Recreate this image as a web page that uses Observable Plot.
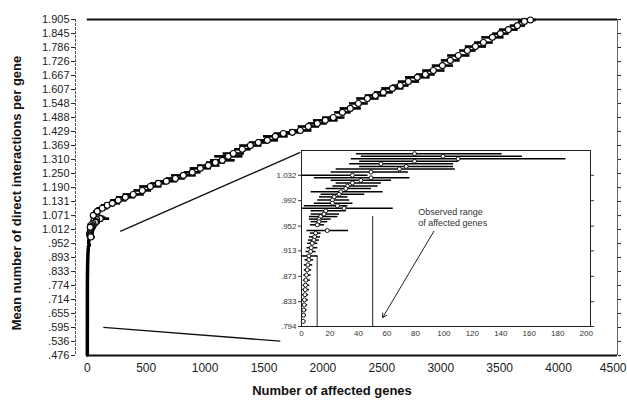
<!DOCTYPE html>
<html><head><meta charset="utf-8">
<script src="https://cdn.jsdelivr.net/npm/d3@7"></script>
<script src="https://cdn.jsdelivr.net/npm/@observablehq/plot@0.6"></script>
<style>
body{margin:0;background:#fff;}
#wrap{position:relative;width:627px;height:402px;overflow:hidden;font-family:"Liberation Sans",Arial,sans-serif;background:#fff;}
#main{position:absolute;left:0;top:0;}
#inset{position:absolute;left:266px;top:148px;}
.ttl{position:absolute;font-weight:bold;font-size:13px;color:#111;white-space:nowrap;}
#ytitle{left:16px;top:193px;transform:translate(-50%,-50%) rotate(-90deg);}
#xtitle{left:332px;top:390px;transform:translate(-50%,-50%);}
</style></head><body>
<div id="wrap"><div id="main"></div><div id="inset"></div>
<div class="ttl" id="ytitle">Mean number of direct interactions per gene</div>
<div class="ttl" id="xtitle">Number of affected genes</div>
</div>
<script>
// ---- main panel ----
const yTicks = [0.476,0.536,0.595,0.655,0.714,0.774,0.833,0.893,0.952,1.012,1.071,1.131,1.190,1.250,1.310,1.369,1.429,1.488,1.548,1.607,1.667,1.726,1.786,1.845,1.905];
const xTicks = [0,500,1000,1500,2000,2500,3000,3500,4000];
const xTickLast = [4500];
const curveX = [25,51,85,127,170,212,263,323,390,467,535,603,671,747,815,891,959,1027,1087,1146,1197,1239,1316,1384,1452,1528,1596,1664,1740,1808,1876,1952,2020,2088,2165,2232,2301,2377,2445,2513,2589,2657,2725,2801,2869,2937,3014,3081,3149,3226,3294,3362,3438,3506,3574,3650,3710,3761];
const curveY = [1.021,1.072,1.089,1.102,1.115,1.123,1.136,1.149,1.161,1.178,1.195,1.208,1.217,1.229,1.242,1.255,1.272,1.284,1.297,1.306,1.323,1.335,1.353,1.369,1.382,1.391,1.408,1.420,1.425,1.433,1.450,1.463,1.476,1.488,1.510,1.527,1.548,1.569,1.582,1.595,1.612,1.624,1.641,1.659,1.671,1.688,1.709,1.731,1.752,1.773,1.790,1.807,1.829,1.845,1.862,1.879,1.897,1.903];
const curveErr = [15,25,35,50,55,65,70,80,90,75,95,70,90,80,105,70,90,95,80,105,120,90,70,95,80,90,105,80,70,95,90,80,105,95,70,90,80,95,90,80,95,70,90,105,80,95,90,80,95,70,90,80,95,70,80,65,55,45];
const lowY = [0.478,0.496,0.514,0.532,0.550,0.568,0.586,0.604,0.622,0.640,0.658,0.676,0.694,0.712,0.730,0.748,0.766,0.784];
const lowX = [0.2,0.2,0.3,0.3,0.3,0.4,0.4,0.5,0.5,0.6,0.6,0.7,0.7,0.8,0.9,0.9,1.0,1.1];
const connectors = [
  {x1: 280, y1: 1.004, x2: 1808, y2: 1.340},
  {x1: 136, y1: 0.596, x2: 1638, y2: 0.537}
];
// ---- inset panel (zoom of the low end) ----
const insetYTicks = [0.794,0.833,0.873,0.913,0.952,0.992,1.032];
const insetXTicks = [0,20,40,60,80,100,120,140,160,180,200];
const insetY  = [1.066,1.062,1.058,1.054,1.050,1.046,1.042,1.037,1.032,1.028,1.024,1.020,1.015,1.011,1.006,1.002,0.998,0.993,0.988,0.984,0.980,0.976,0.971,0.967,0.963,0.959,0.954,0.945,0.941,0.935,0.930,0.925,0.918,0.912,0.905,0.899,0.891,0.883,0.875,0.867,0.859,0.852,0.844,0.836,0.828,0.820,0.812,0.802];
const insetX  = [79.4,99.4,110.0,79.4,55.8,73.5,68.8,48.8,35.8,48.8,41.7,35.8,32.3,31.1,27.6,26.4,22.9,21.7,21.7,25.2,29.9,17.0,15.8,13.4,12.3,12.3,11.1,18.1,9.9,9.2,8.7,7.5,6.8,6.4,5.2,5.2,4.5,4.0,3.5,3.1,2.8,2.6,2.4,2.1,1.9,1.6,1.4,1.2];
const insetLo = [38.2,41.7,34.6,40.5,33.5,40.5,24.0,20.5,0,8.7,20.5,24.0,21.7,17.0,6.4,13.4,12.3,11.1,8.7,1.6,0,6.4,6.4,5.2,5.2,6.4,5.9,3.5,5.9,5.2,4.5,4.0,3.5,2.8,0,2.1,1.6,1.6,1.2,1.0,0.75,0.5,0.5,0.5,0.2,0.2,0,0];
const insetHi = [140.6,154.8,185.4,110.0,106.5,106.5,107.7,74.7,46.4,75.8,62.9,55.8,53.5,48.8,57.0,44.1,32.3,33.5,35.8,32.3,64.1,31.1,26.4,25.2,20.5,18.1,15.8,32.7,13.4,13.0,12.3,11.1,11.1,9.9,11.1,8.2,7.5,6.8,6.4,5.9,5.4,5.2,4.7,4.5,4.0,3.5,3.1,2.8];
const observedRange = [{x: 11, top: 0.905}, {x: 50, top: 0.967}];
const noteText = ["Observed range\nof affected genes"];
const noteX = [82], noteY = [0.983];
const arrowLine = [{x1: 93, y1: 0.944, x2: 57, y2: 0.808}];

const fmt = d => d < 1 ? d.toFixed(3).slice(1) : d.toFixed(3);
const curve = curveX.map((x, i) => ({x, y: curveY[i], lo: x - curveErr[i], hi: x + curveErr[i]}));
const rows = insetY.map((y, i) => ({y, x: insetX[i], lo: insetLo[i], hi: insetHi[i]}));
const low = lowY.map((y, i) => ({y, x: lowX[i], lo: lowX[i], hi: lowX[i]}));
const tail = [...low, ...rows].filter(d => d.y < 1.0).sort((a, b) => a.y - b.y);
const upperRows = rows.filter(d => d.y >= 0.98);
const font = "Liberation Sans, Arial, sans-serif";

const main = Plot.plot({
  width: 627, height: 402,
  marginTop: 19, marginBottom: 47, marginLeft: 75, marginRight: 10,
  x: {domain: [-100, 4500], label: null},
  y: {domain: [0.476, 1.905], label: null},
  style: {fontFamily: font, background: "transparent", color: "#222"},
  marks: [
    Plot.ruleX([-100], {stroke: "#555", strokeDasharray: "3,1"}),
    Plot.ruleY([1.905], {x1: 0, x2: 4500, stroke: "#111", strokeWidth: 2}),
    Plot.ruleY([0.476], {x1: 0, x2: 4500, stroke: "#111", strokeWidth: 2}),
    Plot.ruleX([4500], {stroke: "#666"}),
    Plot.axisY({ticks: yTicks, tickFormat: fmt, tickSize: 4, tickPadding: 2, fontSize: 11, label: null}),
    Plot.axisY({anchor: "right", ticks: yTicks, tickFormat: () => "", tickSize: 3, label: null}),
    Plot.axisX({ticks: xTicks, tickFormat: d => String(d), tickSize: 0, tickPadding: 8, fontSize: 12, label: null}),
    Plot.axisX({ticks: xTickLast, tickFormat: d => String(d), tickSize: 0, tickPadding: 8, fontSize: 12, label: null, textAnchor: "end", dx: 9}),
    Plot.link(connectors, {x1: "x1", y1: "y1", x2: "x2", y2: "y2", stroke: "#111", strokeWidth: 1.3}),
    Plot.line(tail, {x: "x", y: "y", stroke: "#000", strokeWidth: 3.5}),
    Plot.link([...upperRows, ...curve], {x1: "lo", x2: "hi", y1: "y", y2: "y", stroke: "#000", strokeWidth: 2.6}),
    Plot.dot([...upperRows, ...curve], {x: "x", y: "y", r: 3, fill: "white", stroke: "#000", strokeWidth: 1.1})
  ]
});
document.getElementById("main").appendChild(main);

const inset = Plot.plot({
  width: 328, height: 196,
  marginTop: 2, marginBottom: 18, marginLeft: 35, marginRight: 4,
  x: {domain: [0, 203], label: null},
  y: {domain: [0.794, 1.071], label: null},
  style: {fontFamily: font, background: "transparent", color: "#333"},
  marks: [
    Plot.frame({fill: "white", stroke: "#222"}),
    Plot.axisY({ticks: insetYTicks, tickFormat: fmt, tickSize: 3, tickPadding: 2, fontSize: 8, label: null}),
    Plot.axisY({anchor: "right", ticks: insetYTicks, tickFormat: () => "", tickSize: 3, label: null}),
    Plot.axisX({ticks: insetXTicks, tickSize: 0, tickPadding: 4, fontSize: 8, label: null}),
    Plot.ruleX(observedRange, {x: "x", y1: "top", y2: 0.794, stroke: "#222", strokeWidth: 1}),
    Plot.link(rows, {x1: "lo", x2: "hi", y1: "y", y2: "y", stroke: "#000", strokeWidth: 1.5}),
    Plot.dot(rows, {x: "x", y: "y", r: 2, fill: "white", stroke: "#000", strokeWidth: 0.9}),
    Plot.arrow(arrowLine, {x1: "x1", y1: "y1", x2: "x2", y2: "y2", stroke: "#222", strokeWidth: 1, headLength: 7}),
    Plot.text(noteText, {x: noteX, y: noteY, text: d => d, textAnchor: "start", lineAnchor: "top", fontSize: 9, fill: "#333", lineHeight: 1.3})
  ]
});
document.getElementById("inset").appendChild(inset);
</script>
</body></html>
